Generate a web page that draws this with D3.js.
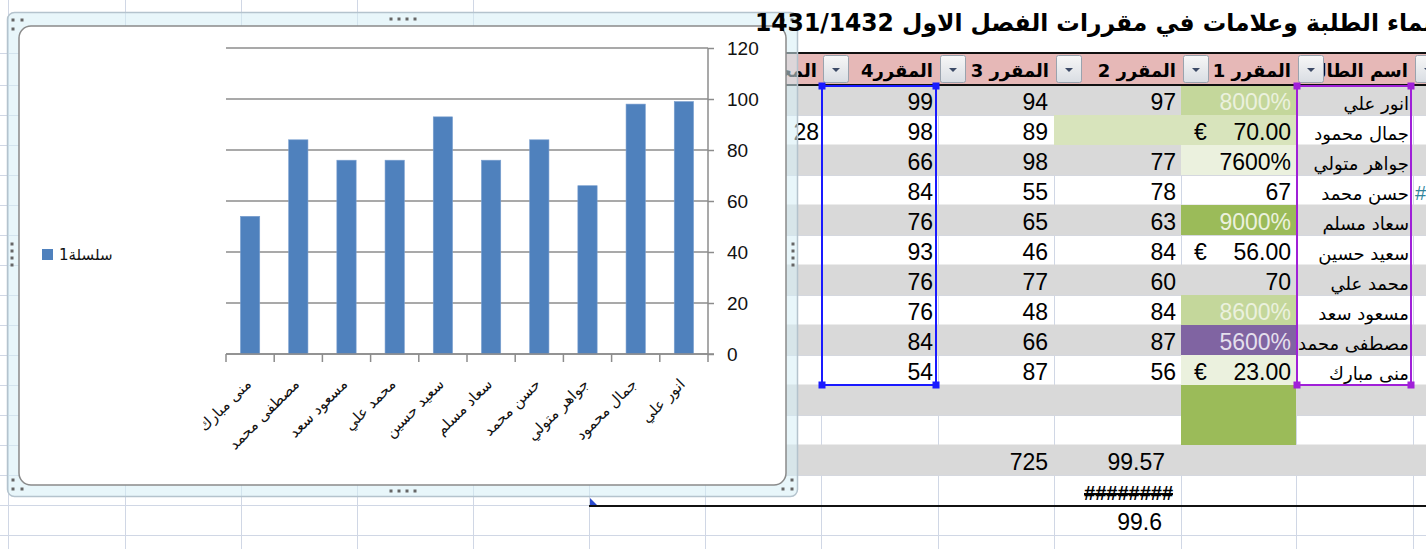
<!DOCTYPE html>
<html>
<head>
<meta charset="utf-8">
<script src="https://cdn.jsdelivr.net/npm/d3@7"></script>
<style>
  body { margin: 0; background: #fff; overflow: hidden; }
  svg { display: block; }
</style>
</head>
<body>
<svg id="sheet" width="1426" height="549"></svg>
<script>
// ---- data ----
const titleText = 'اسماء الطلبة وعلامات في مقررات الفصل الاول 1431/1432';
const headers   = ['اسم الطالب', 'المقرر 1', 'المقرر 2', 'المقرر 3', 'المقرر4'];
const names     = ['انور علي', 'جمال محمود', 'جواهر متولي', 'حسن محمد', 'سعاد مسلم',
                   'سعيد حسين', 'محمد علي', 'مسعود سعد', 'مصطفى محمد', 'منى مبارك'];
const course1   = ['8000%', '€70.00', '7600%', '67', '9000%', '€56.00', '70', '8600%', '5600%', '€23.00'];
const course2   = [97, null, 77, 78, 63, 84, 60, 84, 87, 56];
const course3   = [94, 89, 98, 55, 65, 46, 77, 48, 66, 87];
const course4   = [99, 98, 66, 84, 76, 93, 76, 76, 84, 54];
const course3Total = '725';
const course2Avg   = '99.57';
const course2Wide  = '########';
const course2Round = '99.6';
const seriesName = 'سلسلة1';
const yTicks     = [0, 20, 40, 60, 80, 100, 120];

// conditional fills of the المقرر 1 column (style only)
const c1Fill = ['#c4d79b', '#d8e4bc', '#ebf1de', null, '#9bbb59', null, null, '#c4d79b', '#8064a2', '#ebf1de'];
const c1Ink  = ['#ebf1de', '#000', '#000', '#000', '#ebf1de', '#000', '#000', '#ebf1de', '#e4dfec', '#000'];

// ---- sheet geometry ----
const W = 1426, H = 549;
const colX = [8, 125, 241, 357, 473, 589, 705, 821, 938, 1054, 1181, 1296, 1413];
const rowY = [53, 85, 115, 145, 175, 205, 235, 265, 295, 325, 355, 385, 415, 445, 475, 505, 535];
const ROW = 30, HEAD_TOP = 53, BODY_TOP = 85;
const numFont = '"Liberation Sans", Arial, sans-serif';
const arFont  = '"DejaVu Sans", sans-serif';

const svg = d3.select('#sheet');

// light cell grid
const grid = svg.append('g').attr('stroke', '#d0d7e5').attr('stroke-width', 1);
colX.forEach(x => grid.append('line').attr('x1', x + .5).attr('x2', x + .5).attr('y1', 0).attr('y2', H));
rowY.forEach(y => grid.append('line').attr('x1', 0).attr('x2', W).attr('y1', y + .5).attr('y2', y + .5));
// merged title cell
svg.append('rect').attr('x', 474).attr('y', 0).attr('width', W).attr('height', HEAD_TOP).attr('fill', '#fff');

// table body bands (rows 0..12)
const tableLeft = 705;
for (let i = 0; i < 13; i++) {
  if (i % 2 === 0) {
    svg.append('rect').attr('x', tableLeft).attr('y', BODY_TOP + i * ROW - .5)
      .attr('width', W - tableLeft).attr('height', ROW + 1).attr('fill', '#d9d9d9');
  }
}
// conditional fills
course1.forEach((v, i) => {
  if (!c1Fill[i]) return;
  const x0 = i === 1 ? colX[9] : colX[10];
  svg.append('rect').attr('x', x0).attr('y', BODY_TOP + i * ROW)
    .attr('width', colX[11] - x0).attr('height', ROW).attr('fill', c1Fill[i]);
});
svg.append('rect').attr('x', colX[10]).attr('y', BODY_TOP + 10 * ROW)
  .attr('width', colX[11] - colX[10]).attr('height', 2 * ROW).attr('fill', '#9bbb59');

// header band
svg.append('rect').attr('x', tableLeft).attr('y', HEAD_TOP).attr('width', W - tableLeft)
  .attr('height', BODY_TOP - HEAD_TOP).attr('fill', '#e6b8b7');
[HEAD_TOP, BODY_TOP].forEach(y => svg.append('line').attr('x1', tableLeft).attr('x2', W)
  .attr('y1', y).attr('y2', y).attr('stroke', '#111').attr('stroke-width', 2));

// header texts (right-aligned, RTL sheet: first header is rightmost)
const headCols = [11, 10, 9, 8, 7];
headers.forEach((h, j) => {
  const c = headCols[j];
  svg.append('text').attr('x', colX[c + 1] - 5).attr('y', 77)
    .attr('text-anchor', 'end').attr('font-family', arFont).attr('font-weight', 'bold')
    .attr('font-size', 18).text(h);
});
svg.append('text').attr('x', colX[7] - 4).attr('y', 77).attr('text-anchor', 'end')
  .attr('font-family', arFont).attr('font-weight', 'bold').attr('font-size', 18).text('المجموع');

// dropdown buttons
const defs = svg.append('defs');
const bg = defs.append('linearGradient').attr('id', 'btn').attr('x1', 0).attr('x2', 0).attr('y1', 0).attr('y2', 1);
bg.append('stop').attr('offset', 0).attr('stop-color', '#f7f7f7');
bg.append('stop').attr('offset', 1).attr('stop-color', '#d9dde3');
[7, 8, 9, 10, 11, 12].forEach(c => {
  const bx = colX[c] + 2;
  svg.append('rect').attr('x', bx + .5).attr('y', 55.5).attr('width', 25).attr('height', 27)
    .attr('rx', 2).attr('fill', 'url(#btn)').attr('stroke', '#9aa3ae');
  svg.append('path').attr('d', `M${bx + 9},68 h8 l-4,4 z`).attr('fill', '#3c4a66');
});

// body cells
const cellText = (txt, xr, i, opts = {}) => svg.append('text')
  .attr('x', xr).attr('y', BODY_TOP + i * ROW + 25)
  .attr('text-anchor', opts.anchor || 'end')
  .attr('font-family', opts.font || numFont)
  .attr('font-size', opts.size || 23)
  .attr('fill', opts.fill || '#000')
  .text(txt);

names.forEach((n, i) => {
  cellText(n, colX[12] - 4, i, { font: arFont, size: 18 });
  const v1 = course1[i];
  if (v1.startsWith('€')) {
    cellText('€', colX[10] + 13, i, { anchor: 'start', fill: c1Ink[i] });
    cellText(v1.slice(1), colX[11] - 5, i, { fill: c1Ink[i] });
  } else {
    cellText(v1, colX[11] - 5, i, { fill: c1Ink[i] });
  }
  if (course2[i] !== null) cellText(course2[i], colX[10] - 5, i);
  cellText(course3[i], colX[9] - 6, i);
  cellText(course4[i], colX[8] - 5, i);
});
cellText('28', colX[7] - 2, 1);
cellText('#', colX[12] + 2, 3, { anchor: 'start', fill: '#31849b', size: 20 });
cellText(course3Total, colX[9] - 6, 12);
cellText(course2Avg, colX[10] - 16, 12);
cellText(course2Wide, colX[10] - 8, 13, { size: 20 }).attr('font-weight', 'bold')
  .attr('text-decoration', 'line-through');
cellText(course2Round, colX[10] - 19, 14);

// selection boxes
const selBox = (c, color) => {
  const x0 = colX[c] + 1, x1 = colX[c + 1] - 2, y0 = BODY_TOP + 1, y1 = BODY_TOP + 10 * ROW;
  svg.append('rect').attr('x', x0).attr('y', y0).attr('width', x1 - x0).attr('height', y1 - y0)
    .attr('fill', 'none').attr('stroke', color).attr('stroke-width', 2);
  [[x0, y0], [x1, y0], [x0, y1], [x1, y1]].forEach(([x, y]) =>
    svg.append('rect').attr('x', x - 3.5).attr('y', y - 3.5).attr('width', 7).attr('height', 7).attr('fill', color));
};
selBox(7, '#1a1aff');
selBox(11, '#a020d8');

// bottom border line + marker
svg.append('line').attr('x1', colX[5]).attr('x2', W).attr('y1', 506).attr('y2', 506)
  .attr('stroke', '#111').attr('stroke-width', 2);
svg.append('path').attr('d', `M${colX[5] + 1},505 v-7 l7,7 z`).attr('fill', '#2b4bd0');

// ---- embedded chart ----
const chart = svg.append('g');
chart.append('rect').attr('x', 7.5).attr('y', 12.5).attr('width', 790).attr('height', 484).attr('rx', 7)
  .attr('fill', 'rgba(214,238,246,0.55)').attr('stroke', '#b4c3cd').attr('stroke-width', 1.5);
chart.append('rect').attr('x', 19).attr('y', 26).attr('width', 767).attr('height', 459).attr('rx', 12)
  .attr('fill', '#fff').attr('stroke', '#8a8a8a').attr('stroke-width', 1.5);

// handle dots
const dot = (x, y) => chart.append('rect').attr('x', x - 1.5).attr('y', y - 1.5)
  .attr('width', 3).attr('height', 3).attr('fill', '#666');
[391, 399, 407, 415].forEach(x => { dot(x, 19); dot(x, 491); });
[244, 251, 258, 265].forEach(y => { dot(12, y); dot(793, y); });
[[13, 20], [22, 20], [13, 29], [783, 20], [792, 20], [792, 29],
 [13, 480], [13, 489], [22, 489], [792, 480], [783, 489], [792, 489]].forEach(([x, y]) => dot(x, y));

// scales
const plotL = 226, plotR = 708, plotT = 48, plotB = 354;
const x = d3.scaleBand().domain(names).range([plotR, plotL]).paddingInner(0.6).paddingOuter(0.3);
const y = d3.scaleLinear().domain([0, 120]).range([plotB, plotT]);

// gridlines
chart.append('g').selectAll('line').data(yTicks).join('line')
  .attr('x1', plotL).attr('x2', plotR).attr('y1', d => y(d)).attr('y2', d => y(d))
  .attr('stroke', '#8c8c8c').attr('stroke-width', 1.5);

// bars
chart.append('g').selectAll('rect').data(names).join('rect')
  .attr('x', d => x(d)).attr('width', x.bandwidth())
  .attr('y', (d, i) => y(course4[i])).attr('height', (d, i) => plotB - y(course4[i]))
  .attr('fill', '#4f81bd').attr('stroke', '#7a9fcf').attr('stroke-width', 0.6);

// right value axis
const yAxis = chart.append('g').attr('transform', `translate(${plotR},0)`)
  .call(d3.axisRight(y).tickValues(yTicks).tickSize(6).tickPadding(13));
yAxis.select('.domain').attr('stroke', '#8c8c8c').attr('stroke-width', 1.5).attr('d', `M0,${plotT}V${plotB}`);
yAxis.selectAll('.tick line').attr('stroke', '#8c8c8c').attr('stroke-width', 1.5);
yAxis.selectAll('.tick text').attr('font-family', numFont).attr('font-size', 19).attr('fill', '#111');

// category axis
chart.append('line').attr('x1', plotL).attr('x2', plotR + 6).attr('y1', plotB).attr('y2', plotB)
  .attr('stroke', '#8c8c8c').attr('stroke-width', 1.5);
const step = x.step();
const bounds = names.map(n => x(n) + x.bandwidth() / 2 - step / 2).concat([plotR]);
chart.append('g').selectAll('line').data(bounds).join('line')
  .attr('x1', d => d).attr('x2', d => d).attr('y1', plotB).attr('y2', plotB + 8)
  .attr('stroke', '#8c8c8c').attr('stroke-width', 1.5);
chart.append('g').selectAll('text').data(names).join('text')
  .attr('transform', d => `translate(${x(d) + x.bandwidth() / 2 + 2},${plotB + 31}) rotate(-45)`)
  .attr('text-anchor', 'end').attr('font-family', arFont).attr('font-size', 15).attr('fill', '#111')
  .text(d => d);

// legend
chart.append('rect').attr('x', 42).attr('y', 249).attr('width', 11).attr('height', 11).attr('fill', '#4f81bd');
chart.append('text').attr('x', 59).attr('y', 260).attr('font-family', arFont).attr('font-size', 15)
  .attr('fill', '#111').text(seriesName);

// ---- sheet title (spills past the right edge, as in the sheet) ----
const title = svg.append('text').attr('x', 0).attr('y', 31)
  .attr('font-family', arFont).attr('font-weight', 'bold').attr('font-size', 24).text(titleText);
const tb = title.node().getBBox();
const k = (1455 - 755) / tb.width;
title.attr('transform', `translate(755,0) scale(${k},1) translate(${-tb.x},0)`);
</script>
</body>
</html>
